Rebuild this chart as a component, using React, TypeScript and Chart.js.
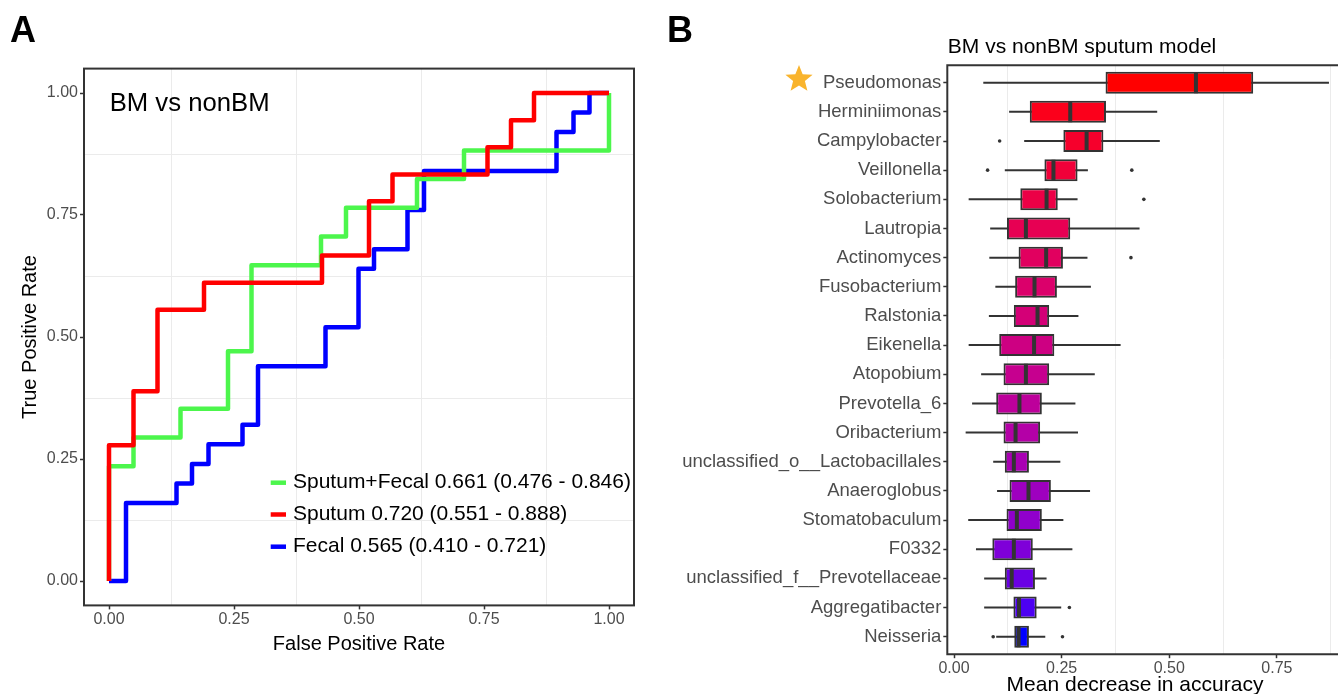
import React, { useEffect, useRef } from 'react';
import { Chart, registerables } from 'chart.js';

Chart.register(...registerables);

const FONT = "'Liberation Sans', Arial, Helvetica, sans-serif";
Chart.defaults.font.family = FONT;

// ---------------- Panel A: ROC curves ----------------
const rocLabels = [
  'Sputum+Fecal 0.661 (0.476 - 0.846)',
  'Sputum 0.720 (0.551 - 0.888)',
  'Fecal 0.565 (0.410 - 0.721)',
];

const sputumFecalFpr = [0, 0, 0.049, 0.049, 0.143, 0.143, 0.238, 0.238, 0.285, 0.285, 0.424, 0.424, 0.474, 0.474, 0.616, 0.616, 0.71, 0.71, 1, 1];
const sputumFecalTpr = [0, 0.235, 0.235, 0.294, 0.294, 0.353, 0.353, 0.471, 0.471, 0.647, 0.647, 0.706, 0.706, 0.765, 0.765, 0.824, 0.824, 0.882, 0.882, 1];

const sputumFpr = [0, 0, 0.049, 0.049, 0.097, 0.097, 0.19, 0.19, 0.426, 0.426, 0.52, 0.52, 0.567, 0.567, 0.757, 0.757, 0.804, 0.804, 0.85, 0.85, 1];
const sputumTpr = [0, 0.278, 0.278, 0.389, 0.389, 0.556, 0.556, 0.611, 0.611, 0.667, 0.667, 0.778, 0.778, 0.833, 0.833, 0.889, 0.889, 0.944, 0.944, 1, 1];

const fecalFpr = [0, 0.034, 0.034, 0.135, 0.135, 0.166, 0.166, 0.199, 0.199, 0.267, 0.267, 0.298, 0.298, 0.433, 0.433, 0.499, 0.499, 0.53, 0.53, 0.597, 0.597, 0.63, 0.63, 0.895, 0.895, 0.929, 0.929, 0.961, 0.961, 1];
const fecalTpr = [0, 0, 0.16, 0.16, 0.2, 0.2, 0.24, 0.24, 0.28, 0.28, 0.32, 0.32, 0.44, 0.44, 0.52, 0.52, 0.64, 0.64, 0.68, 0.68, 0.76, 0.76, 0.84, 0.84, 0.92, 0.92, 0.96, 0.96, 1, 1];

const rocMajorTicks = [0, 0.25, 0.5, 0.75, 1];
const rocMinorGrid = [0.125, 0.375, 0.625, 0.875];

const rocColors = ['#4CF64C', '#FF0000', '#0000FF'];

// ---------------- Panel B: importance boxplots ----------------
const taxa = [
  'Pseudomonas', 'Herminiimonas', 'Campylobacter', 'Veillonella', 'Solobacterium',
  'Lautropia', 'Actinomyces', 'Fusobacterium', 'Ralstonia', 'Eikenella',
  'Atopobium', 'Prevotella_6', 'Oribacterium', 'unclassified_o__Lactobacillales', 'Anaeroglobus',
  'Stomatobaculum', 'F0332', 'unclassified_f__Prevotellaceae', 'Aggregatibacter', 'Neisseria',
];
const whiskerLow = [0.068, 0.128, 0.163, 0.118, 0.034, 0.084, 0.082, 0.096, 0.081, 0.034, 0.063, 0.042, 0.027, 0.091, 0.100, 0.033, 0.051, 0.070, 0.070, 0.098];
const q1 = [0.352, 0.176, 0.254, 0.210, 0.154, 0.123, 0.150, 0.142, 0.139, 0.105, 0.115, 0.098, 0.115, 0.118, 0.129, 0.122, 0.089, 0.118, 0.138, 0.140];
const median = [0.562, 0.270, 0.308, 0.231, 0.215, 0.167, 0.214, 0.187, 0.194, 0.186, 0.167, 0.152, 0.143, 0.139, 0.173, 0.146, 0.139, 0.134, 0.151, 0.150];
const q3 = [0.695, 0.353, 0.347, 0.287, 0.241, 0.270, 0.253, 0.239, 0.221, 0.233, 0.221, 0.204, 0.200, 0.174, 0.225, 0.204, 0.183, 0.188, 0.192, 0.174];
const whiskerHigh = [0.871, 0.472, 0.478, 0.311, 0.287, 0.431, 0.310, 0.318, 0.289, 0.387, 0.327, 0.282, 0.288, 0.247, 0.316, 0.254, 0.275, 0.215, 0.249, 0.212];
const outlierTaxon = ['Campylobacter', 'Veillonella', 'Veillonella', 'Solobacterium', 'Actinomyces', 'Aggregatibacter', 'Neisseria', 'Neisseria'];
const outlierValue = [0.106, 0.078, 0.413, 0.441, 0.411, 0.268, 0.091, 0.252];

const impMajorTicks = [0, 0.25, 0.5, 0.75];
const impMinorGrid = [0.125, 0.375, 0.625, 0.875];

// red -> blue ramp interpolated in CIE Lab (like ggplot's gradient)
function labToRgb(L: number, a: number, b: number) {
  const fy = (L + 16) / 116, fx = fy + a / 500, fz = fy - b / 200;
  const e = 6 / 29;
  const finv = (t: number) => (t > e ? t * t * t : 3 * e * e * (t - 4 / 29));
  const X = 0.95047 * finv(fx), Y = finv(fy), Z = 1.08883 * finv(fz);
  const r = 3.2404542 * X - 1.5371385 * Y - 0.4985314 * Z;
  const g = -0.969266 * X + 1.8760108 * Y + 0.041556 * Z;
  const bl = 0.0556434 * X - 0.2040259 * Y + 1.0572252 * Z;
  const gam = (c: number) => {
    c = Math.min(1, Math.max(0, c));
    return c <= 0.0031308 ? 12.92 * c : 1.055 * Math.pow(c, 1 / 2.4) - 0.055;
  };
  return `rgb(${Math.round(gam(r) * 255)},${Math.round(gam(g) * 255)},${Math.round(gam(bl) * 255)})`;
}
const RED_LAB = [53.2408, 80.0925, 67.2032];
const BLUE_LAB = [32.297, 79.1875, -107.8602];
const boxColors = taxa.map((_, i) => {
  const t = i / (taxa.length - 1);
  return labToRgb(
    RED_LAB[0] + (BLUE_LAB[0] - RED_LAB[0]) * t,
    RED_LAB[1] + (BLUE_LAB[1] - RED_LAB[1]) * t,
    RED_LAB[2] + (BLUE_LAB[2] - RED_LAB[2]) * t,
  );
});

const FRAME = '#333333';
const GRID = '#EBEBEB';
const TICKTXT = '#4D4D4D';

function makeTicks(majors: number[], minors: number[]) {
  return (scale: any) => {
    scale.ticks = [...majors, ...minors].sort((a, b) => a - b).map((v) => ({ value: v }));
  };
}

const panelAPlugin = {
  id: 'panelA',
  afterDraw(chart: any) {
    const { ctx, chartArea: ca } = chart;
    ctx.save();
    ctx.strokeStyle = FRAME;
    ctx.lineWidth = 2;
    ctx.strokeRect(ca.left, ca.top, ca.right - ca.left, ca.bottom - ca.top);

    ctx.fillStyle = '#000';
    ctx.textAlign = 'left';
    ctx.textBaseline = 'middle';
    ctx.font = `25.7px ${FONT}`;
    ctx.fillText('BM vs nonBM', ca.left + 25.7, ca.top + 35.5);

    ctx.font = `21px ${FONT}`;
    const ys = [ca.bottom - 122.7, ca.bottom - 90.9, ca.bottom - 58.7];
    for (let i = 0; i < rocLabels.length; i++) {
      ctx.strokeStyle = rocColors[i];
      ctx.lineWidth = 4.5;
      ctx.lineCap = 'butt';
      ctx.beginPath();
      ctx.moveTo(ca.left + 186.7, ys[i]);
      ctx.lineTo(ca.left + 202, ys[i]);
      ctx.stroke();
      ctx.fillStyle = '#000';
      ctx.fillText(rocLabels[i], ca.left + 209, ys[i]);
    }
    ctx.restore();
  },
};

function RocChart() {
  const ref = useRef<HTMLCanvasElement>(null);
  useEffect(() => {
    const mk = (fpr: number[], tpr: number[]) => fpr.map((x, i) => ({ x, y: tpr[i] }));
    const chart = new Chart(ref.current as HTMLCanvasElement, {
      type: 'line',
      data: {
        datasets: [
          { label: rocLabels[1], data: mk(sputumFpr, sputumTpr), borderColor: rocColors[1] },
          { label: rocLabels[0], data: mk(sputumFecalFpr, sputumFecalTpr), borderColor: rocColors[0] },
          { label: rocLabels[2], data: mk(fecalFpr, fecalTpr), borderColor: rocColors[2] },
        ],
      },
      options: {
        responsive: false,
        animation: false,
        layout: { autoPadding: false, padding: { top: 68.6, right: 26, left: 0, bottom: 0 } },
        plugins: { legend: { display: false }, tooltip: { enabled: false }, title: { display: false } },
        elements: {
          point: { radius: 0, hoverRadius: 0 },
          line: { borderWidth: 4.5, tension: 0, borderJoinStyle: 'round', borderCapStyle: 'butt', fill: false },
        },
        scales: {
          x: {
            type: 'linear',
            min: -0.05,
            max: 1.05,
            afterBuildTicks: makeTicks(rocMajorTicks, rocMinorGrid),
            afterFit: (s: any) => { s.height = 88.6; },
            border: { display: false },
            grid: {
              color: (c: any) => (rocMajorTicks.includes(c.tick?.value) ? 'rgba(0,0,0,0)' : GRID),
              tickColor: (c: any) => (rocMajorTicks.includes(c.tick?.value) ? FRAME : 'rgba(0,0,0,0)'),
              lineWidth: 1,
              tickWidth: 1.5,
              tickLength: 4,
              drawTicks: true,
            },
            ticks: {
              autoSkip: false,
              maxRotation: 0,
              padding: 1,
              color: TICKTXT,
              font: { size: 16 },
              callback: (v: any) => (rocMajorTicks.includes(v) ? Number(v).toFixed(2) : ''),
            },
            title: { display: true, text: 'False Positive Rate', color: '#000', font: { size: 20 }, padding: { top: 0, bottom: 38 } },
          },
          y: {
            type: 'linear',
            min: -0.05,
            max: 1.05,
            afterBuildTicks: makeTicks(rocMajorTicks, rocMinorGrid),
            afterFit: (s: any) => { s.width = 84; },
            border: { display: false },
            grid: {
              color: (c: any) => (rocMajorTicks.includes(c.tick?.value) ? 'rgba(0,0,0,0)' : GRID),
              tickColor: (c: any) => (rocMajorTicks.includes(c.tick?.value) ? FRAME : 'rgba(0,0,0,0)'),
              lineWidth: 1,
              tickWidth: 1.5,
              tickLength: 4,
            },
            ticks: {
              autoSkip: false,
              padding: 2,
              color: TICKTXT,
              font: { size: 16 },
              callback: (v: any) => (rocMajorTicks.includes(v) ? Number(v).toFixed(2) : ''),
            },
            title: { display: true, text: 'True Positive Rate', color: '#000', font: { size: 20 }, padding: { top: 18, bottom: 0 } },
          },
        },
      } as any,
      plugins: [panelAPlugin],
    });
    return () => chart.destroy();
  }, []);
  return <canvas ref={ref} width={660} height={694} style={{ position: 'absolute', left: 0, top: 0 }} />;
}

function drawStar(ctx: CanvasRenderingContext2D, cx: number, cy: number, R: number, r: number) {
  ctx.beginPath();
  for (let k = 0; k < 10; k++) {
    const ang = -Math.PI / 2 + (k * Math.PI) / 5;
    const rad = k % 2 === 0 ? R : r;
    const px = cx + rad * Math.cos(ang);
    const py = cy + rad * Math.sin(ang);
    if (k === 0) ctx.moveTo(px, py);
    else ctx.lineTo(px, py);
  }
  ctx.closePath();
  ctx.fill();
}

const panelBPlugin = {
  id: 'panelB',
  afterDraw(chart: any) {
    const { ctx, chartArea: ca, width } = chart;
    ctx.save();
    ctx.strokeStyle = FRAME;
    ctx.lineWidth = 2;
    ctx.beginPath();
    ctx.moveTo(width + 5, ca.top);
    ctx.lineTo(ca.left, ca.top);
    ctx.lineTo(ca.left, ca.bottom);
    ctx.lineTo(width + 5, ca.bottom);
    ctx.stroke();

    ctx.fillStyle = '#000';
    ctx.textBaseline = 'middle';
    ctx.textAlign = 'left';
    ctx.font = `21px ${FONT}`;
    ctx.fillText('BM vs nonBM sputum model', ca.left + 0.5, ca.top - 18);

    ctx.textAlign = 'center';
    ctx.fillText('Mean decrease in accuracy', ca.left + 187.7, ca.bottom + 31);

    // star marking the top taxon
    const yScale = chart.scales.y;
    const sy = yScale.getPixelForValue(0) - 3.5;
    ctx.fillStyle = '#F9B42D';
    drawStar(ctx, ca.left - 148.3, sy, 14.3, 6.2);
    ctx.restore();
  },
};

function ImportanceChart() {
  const ref = useRef<HTMLCanvasElement>(null);
  useEffect(() => {
    const chart = new Chart(ref.current as HTMLCanvasElement, {
      type: 'bar',
      data: {
        datasets: [
          {
            type: 'line',
            label: 'median',
            indexAxis: 'y',
            data: median.map((m, i) => ({ x: m, y: i })),
            showLine: false,
            pointStyle: 'line',
            pointRotation: 90,
            pointRadius: 10.5,
            pointHoverRadius: 10.5,
            pointBorderWidth: 4,
            pointBorderColor: FRAME,
            pointBackgroundColor: FRAME,
            order: 0,
          },
          {
            type: 'line',
            label: 'outliers',
            indexAxis: 'y',
            data: outlierValue.map((v, i) => ({ x: v, y: taxa.indexOf(outlierTaxon[i]) })),
            showLine: false,
            pointStyle: 'circle',
            pointRadius: 1.8,
            pointBorderWidth: 0,
            pointBackgroundColor: FRAME,
            order: 1,
          },
          {
            type: 'bar',
            label: 'box',
            indexAxis: 'y',
            data: q1.map((a, i) => ({ x: [a, q3[i]], y: i })),
            backgroundColor: boxColors,
            borderColor: FRAME,
            borderWidth: 2,
            borderSkipped: false,
            inflateAmount: 0,
            grouped: false,
            barThickness: 22,
            maxBarThickness: 22,
            order: 2,
          },
          {
            type: 'bar',
            label: 'whisker',
            indexAxis: 'y',
            data: whiskerLow.map((a, i) => ({ x: [a, whiskerHigh[i]], y: i })),
            backgroundColor: FRAME,
            borderWidth: 0,
            inflateAmount: 0,
            grouped: false,
            barThickness: 2,
            maxBarThickness: 2,
            order: 3,
          },
        ],
      },
      options: {
        indexAxis: 'y',
        responsive: false,
        animation: false,
        layout: { autoPadding: false, padding: { top: 65.2, right: 0, left: 0, bottom: 0 } },
        plugins: { legend: { display: false }, tooltip: { enabled: false }, title: { display: false } },
        scales: {
          x: {
            type: 'linear',
            min: -0.0156,
            max: 0.892,
            offset: false,
            afterBuildTicks: makeTicks(impMajorTicks, impMinorGrid),
            afterFit: (s: any) => { s.height = 65.8; },
            border: { display: false },
            grid: {
              offset: false,
              color: (c: any) => (impMajorTicks.includes(c.tick?.value) ? 'rgba(0,0,0,0)' : GRID),
              tickColor: (c: any) => (impMajorTicks.includes(c.tick?.value) ? FRAME : 'rgba(0,0,0,0)'),
              lineWidth: 1,
              tickWidth: 1.5,
              tickLength: 4,
            },
            ticks: {
              autoSkip: false,
              maxRotation: 0,
              padding: 1,
              color: TICKTXT,
              font: { size: 16 },
              callback: (v: any) => (impMajorTicks.includes(v) ? Number(v).toFixed(2) : ''),
            },
            title: { display: false },
          },
          y: {
            type: 'linear',
            min: -0.6,
            max: taxa.length - 1 + 0.6,
            reverse: true,
            offset: false,
            afterBuildTicks: (scale: any) => { scale.ticks = taxa.map((_, i) => ({ value: i })); },
            afterFit: (s: any) => { s.width = 287.3; },
            border: { display: false },
            grid: {
              offset: false,
              color: 'rgba(0,0,0,0)',
              tickColor: FRAME,
              tickWidth: 1.5,
              tickLength: 4,
            },
            ticks: {
              autoSkip: false,
              padding: 2,
              color: TICKTXT,
              font: { size: 18.5 },
              callback: (v: any) => taxa[v] ?? '',
            },
          },
        },
      } as any,
      plugins: [panelBPlugin],
    });
    return () => chart.destroy();
  }, []);
  return <canvas ref={ref} width={678} height={720} style={{ position: 'absolute', left: 660, top: 0 }} />;
}

export default function App() {
  const letter: React.CSSProperties = {
    position: 'absolute',
    top: 12,
    font: `bold 36px ${FONT}`,
    lineHeight: '36px',
    color: '#000',
  };
  return (
    <div style={{ position: 'fixed', left: 0, top: 0, width: 1338, height: 694, overflow: 'hidden', background: '#fff' }}>
      <RocChart />
      <ImportanceChart />
      <div style={{ ...letter, left: 10 }}>A</div>
      <div style={{ ...letter, left: 667 }}>B</div>
    </div>
  );
}
